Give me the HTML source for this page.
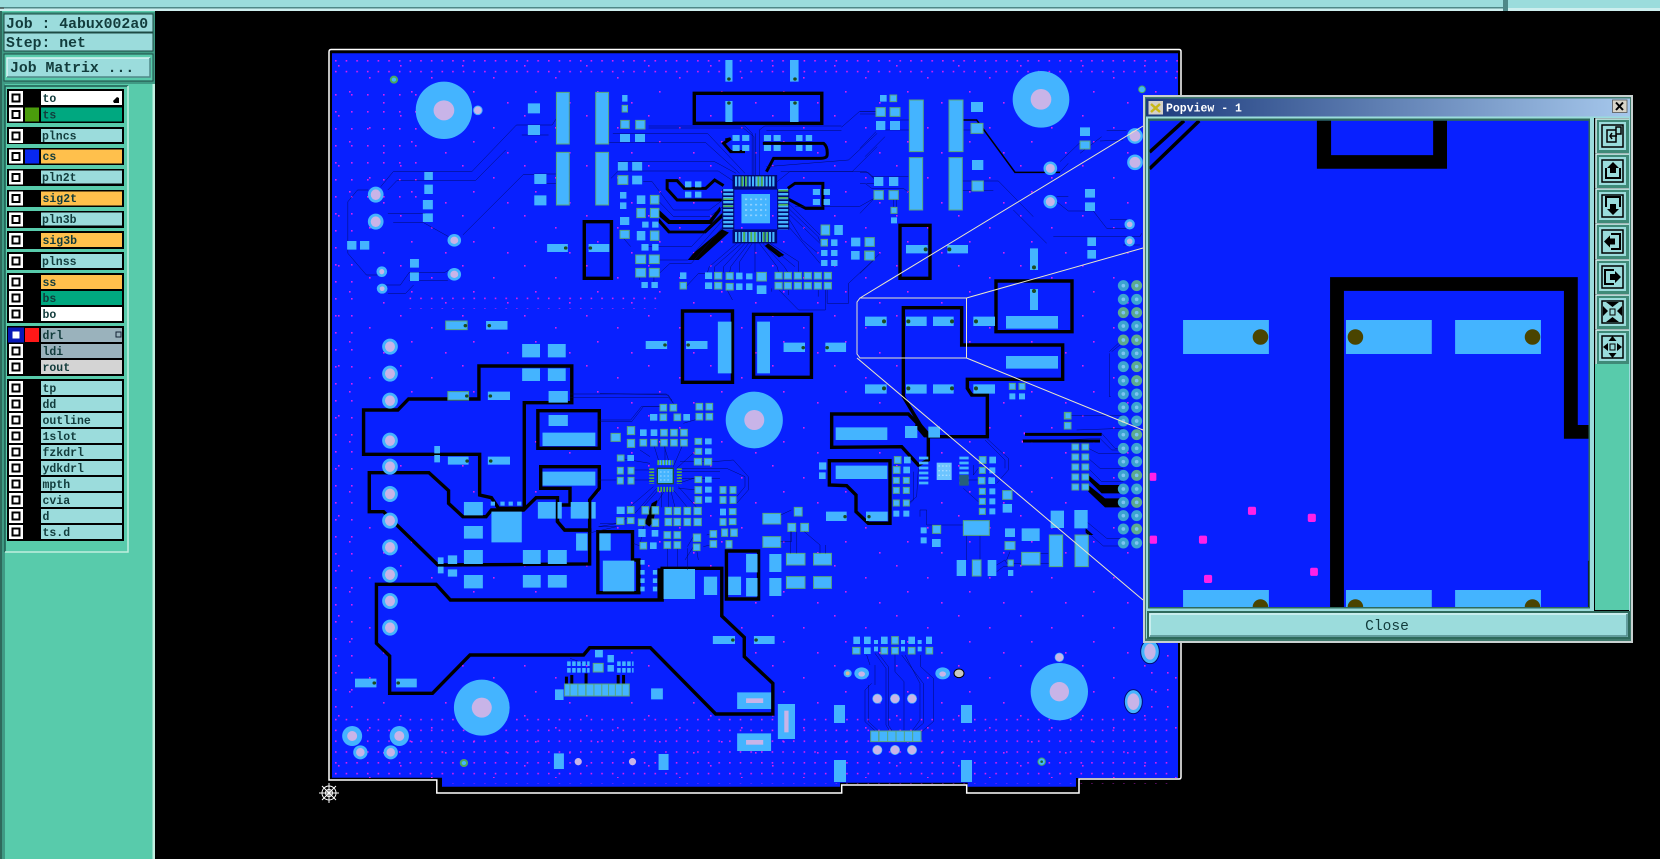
<!DOCTYPE html>
<html><head><meta charset="utf-8"><title>Genesis PCB view</title>
<style>
html,body{margin:0;padding:0;background:#000;width:1660px;height:859px;overflow:hidden}
svg{display:block}
text{font-family:"Liberation Mono",monospace;font-weight:bold;fill:#123c3c}
.l{font-size:11.5px}
.h{font-size:14.8px}
.p{fill:#44b4ff}
.g{fill:#44b4ff;stroke:#58a67c;stroke-width:1;vector-effect:non-scaling-stroke}
.t{fill:none;stroke:#000850;stroke-width:1.25;vector-effect:non-scaling-stroke}
.k{fill:none;stroke:#000;stroke-width:3;vector-effect:non-scaling-stroke}
.pl{fill:#0820ff;stroke:#000;stroke-width:3.4;vector-effect:non-scaling-stroke;stroke-linejoin:miter}
.bx{fill:none;stroke:#000;stroke-width:3.4;vector-effect:non-scaling-stroke}
.b{fill:#000}
.v{fill:#c8b4e8}
.d{fill:#1c4a20}
.lp{fill:none;stroke:#ece8c8;stroke-width:1}
</style></head>
<body>
<svg width="1660" height="859" viewBox="0 0 1660 859" xmlns="http://www.w3.org/2000/svg">
<defs>
<pattern id="dn" patternUnits="userSpaceOnUse" x="335" y="60" width="10.65" height="10.8"><rect width="1.6" height="1.6" fill="#d820f0"/></pattern>
<pattern id="dm" patternUnits="userSpaceOnUse" x="335" y="60" width="16" height="17"><rect width="1.6" height="1.6" fill="#d820f0"/></pattern>
<pattern id="sp" patternUnits="userSpaceOnUse" x="335" y="60" width="62" height="50"><rect x="3" y="5" width="1.6" height="1.6" fill="#d820f0"/><rect x="34" y="17" width="1.6" height="1.6" fill="#d820f0"/><rect x="14" y="31" width="1.6" height="1.6" fill="#d820f0"/><rect x="48" y="42" width="1.6" height="1.6" fill="#d820f0"/></pattern>
<linearGradient id="tg" x1="0" x2="1" y1="0" y2="0"><stop offset="0" stop-color="#1c3a7c"/><stop offset="1" stop-color="#a6c8ec"/></linearGradient>
</defs>
<rect width="1660" height="859" fill="#000"/>

<!-- top bar -->
<rect x="0" y="0" width="1503" height="7.5" fill="#9bdcdc"/>
<rect x="4" y="7" width="1499" height="1.5" fill="#4f8888"/>
<rect x="0" y="8.5" width="1503" height="2.5" fill="#cdeeee"/>
<rect x="1503" y="0" width="5" height="11" fill="#4f8888"/>
<rect x="1508" y="0" width="152" height="8" fill="#9bdcdc"/>
<rect x="1508" y="8" width="152" height="3" fill="#cdeeee"/>

<!-- board -->
<path d="M331 49.5H1179q2 0 2 2V777q0 2-2 2H1079V793H966.7V785H841.7V793H436.8V780H329V52q0-2.5 2-2.5z" fill="#000" stroke="#fff" stroke-width="1.5"/>
<path d="M332 53.3H1178V778H1076V786.7H967.7V782.7H840V786.7H442V777.7H332z" fill="#0820ff"/>
<rect x="332" y="54" width="846" height="724" fill="url(#sp)"/>
<rect x="334" y="58" width="844" height="22" fill="url(#dn)"/>
<rect x="443" y="716" width="733" height="68" fill="url(#dn)"/>
<rect x="334" y="716" width="110" height="60" fill="url(#dn)"/>
<rect x="334" y="80" width="26" height="636" fill="url(#dm)"/>
<rect x="405" y="293" width="260" height="16" fill="url(#dn)"/>
<rect x="360" y="90" width="60" height="110" fill="url(#dm)"/>
<rect x="1150" y="640" width="27" height="76" fill="url(#dm)"/>

<!-- planes -->
<g transform="translate(320,400) scale(.35714,.33333)">
<path class="pl" d="M122 163V30H218L248-3H445V-102H705V8H572V325H500L480 293 447 285V163z"/>
<path class="pl" d="M138 335V218H305L360 272V310L400 350H465L480 330H570L605 293H665V365L685 390H755V492L330 495 215 375 178 335z"/>
<path class="pl" d="M158 730V553H325L365 600H958V505H1125V648L1188 712V770L1268 850V942H1108L925 743H755L738 765H420L315 880H195V768z"/>
<path class="pl" d="M610 145V32H782V145z"/>
<path class="pl" d="M618 265V200H782V265L755 300V390H685L665 365V315H700V265z"/>
<path class="pl" d="M778 578V395H875V480H893V578z"/>
<path class="pl" d="M1138 597V453H1228V597z"/>
<rect class="b" x="885" y="480" width="12" height="98"/>
<rect class="b" x="945" y="505" width="16" height="95"/>
</g>
<g transform="translate(860,40) scale(.33333)">
<path class="pl" d="M130 1070V803H305V915H608V1018H322V1045L335 1065H382V1190H202z"/>
<rect class="bx" x="408" y="723" width="228" height="152" style="fill:#0820ff"/>
<rect class="bx" x="120" y="556" width="90" height="159"/>
</g>
<g transform="translate(800,400) scale(.33333)">
<path class="pl" d="M95 142V42H325L385 105V180L355 195 305 140z"/>
<path class="pl" d="M88 255V182H270V370H205L168 335V285L140 257z"/>
<path class="b" d="M350 55L385 95V112H372L345 80z"/>
</g>
<g transform="translate(320,40) scale(.35714,.33333)">
<rect class="bx" x="1048" y="160" width="357" height="90"/>
<rect class="bx" x="740" y="545" width="76" height="170"/>
<rect class="bx" x="1015" y="813" width="140" height="214"/>
<rect class="bx" x="1214" y="823" width="162" height="189"/>
</g>

<!-- top-left zoom group -->
<g transform="translate(320,40) scale(.35714,.33333)">
<path class="b" d="M945 505L980 540H1090L1120 500 1122 512 1095 552H975L945 525z"/>
<path class="b" d="M950 535L980 572H1075L1125 520 1130 530 1080 580H975L948 548z"/>
<path class="b" d="M1030 660H1060L1145 578 1125 568 1045 640z"/>
<path class="b" d="M1255 610L1300 645 1285 652 1245 618z"/>
<path class="k" d="M1130 437L1105 420 1080 445H1020L1000 422H972V447L1000 480H1125"/>
<path class="k" d="M1240 310H1410Q1422 320 1420 345 1420 355 1400 355H1270L1250 395M1135 300L1150 296 1130 310 1150 335H1190"/>
<path class="k" d="M1310 445L1330 430H1408V505H1360L1312 478M1408 430V505"/>
<g class="t">
<path d="M135 450H105L78 485V640L130 705H160M170 440L205 395H425L550 255H650L662 235M190 450L215 422H435L520 330M190 520H295M205 548H290L360 590M400 585L570 403H600M175 735H225L250 697H350L360 690M190 760H240L262 735M250 722H358M565 285H640M600 430H662M600 402H662"/>
<path d="M820 280H1085L1190 400M810 308H1080L1175 400M835 365H1105L1165 400M815 415L835 393H1115L1160 425M920 258H1190L1210 280V405M920 264H1185L1215 290V405M1220 280V405M1230 405V270L1245 258H1460M1250 272H1460M1290 395H1490L1560 320M1280 425L1315 395H1530L1560 425M1250 380L1480 360 1560 280M1460 262L1510 215H1565M1530 430L1565 430M1330 500L1510 500 1560 470"/>
<path d="M1170 607L1090 680 1085 697M1180 610L1105 680V697M1190 610L1130 680V698M1200 610L1150 680 1147 698M1210 610L1175 665V698M1218 610V697M1230 610L1280 680 1284 697M1240 610L1300 680 1310 697M1250 610L1330 680M1260 610L1340 665V697M1128 480L1090 510H990L930 425H905M1128 500L1090 530H990L945 480M1128 520L1040 620H900M1128 540L1030 660H950M1128 560L1040 670H980L950 700M1312 490L1400 585M1312 505L1395 590 1400 605M1312 520L1400 610M1312 535L1350 600 1395 640M1312 560L1345 600 1400 670M1480 730L1530 680 1568 640M1285 750L1340 810H1415V750M1420 750V790H1480V730M1025 740L1060 700H1078M1140 750L1155 780M1312 750V765M1395 750V770M1265 745V755M870 620L850 595V570M895 700V720M935 700V725"/>
<path d="M700 1062H970L985 1080M700 1072H975L990 1090"/>
</g>
<!-- chip 1 -->
<rect fill="#000a70" x="1155" y="405" width="125" height="44"/>
<rect fill="#000a70" x="1155" y="568" width="125" height="42"/>
<path d="M1162 424H1275M1162 591H1275" fill="none" stroke="#44b4ff" stroke-width="30" stroke-dasharray="6 3.500"/>
<path d="M1180 424H1200M1225 424H1240M1185 591H1190M1205 591H1225M1240 591H1260" fill="none" stroke="#4fb050" stroke-width="30" stroke-dasharray="5 5"/>
<rect fill="#000a70" x="1126" y="447" width="34" height="122"/>
<rect fill="#000a70" x="1280" y="447" width="34" height="122"/>
<path d="M1143 447V568M1297 447V568" fill="none" stroke="#44b4ff" stroke-width="28" stroke-dasharray="7 5"/>
<path d="M1143 475V515M1297 450V510" fill="none" stroke="#4fb050" stroke-width="27" stroke-dasharray="5 16"/>
<rect class="p" x="1180" y="462" width="80" height="88"/>
<path d="M1190 478H1250M1190 494H1250M1190 510H1250M1190 526H1250" stroke="#8cd0ff" stroke-width="5" stroke-dasharray="6 8" fill="none"/>
<!-- big pad and vias -->
<ellipse class="p" cx="347" cy="211" rx="79" ry="86"/><ellipse class="v" cx="347" cy="211" rx="29" ry="30"/>
<ellipse class="v" cx="442" cy="211" rx="12" ry="13" stroke="#44b4ff" stroke-width="1" vector-effect="non-scaling-stroke"/>
<ellipse class="p" cx="1216" cy="1140" rx="80" ry="85"/><ellipse class="v" cx="1216" cy="1140" rx="28" ry="30"/>
<g fill="#c8b4e8" stroke="#44b4ff" stroke-width="8">
<ellipse cx="156" cy="464" rx="18" ry="20"/><ellipse cx="156" cy="545" rx="18" ry="20"/><ellipse cx="376" cy="601" rx="15" ry="15"/><ellipse cx="173" cy="695" rx="11" ry="12"/><ellipse cx="174" cy="746" rx="11" ry="11"/><ellipse cx="376" cy="703" rx="15" ry="15"/>
<ellipse cx="196" cy="920" rx="18" ry="20"/><ellipse cx="196" cy="1001" rx="18" ry="20"/><ellipse cx="196" cy="1082" rx="18" ry="20"/>
</g>
<circle cx="207" cy="119" r="9" fill="#44b4ff" stroke="#4aa860" stroke-width="2" vector-effect="non-scaling-stroke"/>
<path class="g" d="M662 157h36v155h-36zM772 157h36v155h-36zM662 337h36v158h-36zM772 337h36v158h-36zM842 241h24v24h-24zM884 241h26v26h-26zM846 196h15v20h-15zM834 407h28v26h-28zM887 505h24v28h-24zM925 466h24v26h-24zM925 505h24v28h-24zM925 573h24v28h-24zM840 571h26v24h-26zM884 645h28v26h-28zM922 645h28v26h-28zM884 685h28v26h-28zM922 685h28v26h-28zM1403 555h24v30h-24zM1403 598h18v20h-18zM1525 633h26v26h-26zM1105 697h20v20h-20zM1137 698h20v20h-20zM1137 730h20v20h-20zM1105 727h20v20h-20zM1223 697h27v26h-27zM1274 697h20v20h-20zM1274 727h20v20h-20zM1300 697h20v20h-20zM1300 727h20v20h-20zM1328 697h20v20h-20zM1328 727h20v20h-20zM1356 697h20v20h-20zM1356 727h20v20h-20zM1384 697h20v20h-20zM1384 727h20v20h-20zM1412 697h20v20h-20zM1412 727h20v20h-20zM1008 727h18v20h-18zM352 843h60v26h-60zM358 1055h58v25h-58z"/>
<path class="p" d="M582 190h34v30h-34zM582 255h34v30h-34zM600 402h34v30h-34zM600 466h34v30h-34zM292 396h24v24h-24zM292 434h24v28h-24zM288 480h28v28h-28zM288 520h28v26h-28zM76 603h26v26h-26zM112 603h26v26h-26zM252 657h25v26h-25zM252 697h25v26h-25zM1135 60h20v65h-20zM1316 60h24v65h-24zM1135 183h20v63h-20zM1316 183h24v63h-24zM846 165h15v20h-15zM840 282h28v24h-28zM882 282h28v24h-28zM834 366h28v26h-28zM874 366h28v26h-28zM874 407h28v26h-28zM840 456h18v20h-18zM840 487h18v20h-18zM887 466h24v26h-24zM902 545h18v18h-18zM930 545h18v18h-18zM840 531h26v24h-26zM887 573h24v28h-24zM900 612h20v20h-20zM930 612h18v20h-18zM900 726h18v18h-18zM928 726h18v18h-18zM752 612h58v24h-58zM636 612h58v24h-58zM1008 697h18v20h-18zM1078 697h20v20h-20zM1078 727h20v20h-20zM1165 698h18v20h-18zM1165 730h18v20h-18zM1193 700h18v18h-18zM1193 730h18v20h-18zM1223 736h27v26h-27zM1440 555h24v30h-24zM1431 598h18v20h-18zM1403 630h18v18h-18zM1431 630h18v18h-18zM1403 660h18v18h-18zM1431 660h18v18h-18zM1487 593h26v26h-26zM1525 593h26v26h-26zM1487 633h24v26h-24zM1155 285h20v18h-20zM1182 285h20v18h-20zM1155 315h20v18h-20zM1182 315h20v18h-20zM1243 285h20v18h-20zM1270 285h20v18h-20zM1243 315h20v18h-20zM1270 315h20v18h-20zM1333 285h18v18h-18zM1360 285h18v18h-18zM1333 315h18v18h-18zM1360 315h18v18h-18zM1022 424h18v18h-18zM1050 424h18v18h-18zM1022 455h18v18h-18zM1050 455h18v18h-18zM1380 447h20v18h-20zM1410 447h18v18h-18zM1380 477h20v18h-20zM1410 477h18v18h-18zM566 912h50v40h-50zM638 912h50v40h-50zM566 985h50v38h-50zM638 985h50v38h-50zM640 1053h54v35h-54zM465 843h60v26h-60zM470 1055h62v25h-62zM912 903h60v24h-60zM1025 903h60v24h-60zM1114 845h38v155h-38zM1224 845h36v155h-36zM1298 908h60v28h-60zM1415 908h58v28h-58z"/>
<g class="d"><circle cx="1145" cy="117" r="5"/><circle cx="1330" cy="117" r="5"/><circle cx="1145" cy="189" r="5"/><circle cx="1330" cy="189" r="5"/><circle cx="688" cy="624" r="5"/><circle cx="757" cy="624" r="5"/><circle cx="407" cy="857" r="5"/><circle cx="474" cy="857" r="5"/><circle cx="411" cy="1068" r="5"/><circle cx="477" cy="1068" r="5"/><circle cx="966" cy="915" r="5"/><circle cx="1031" cy="915" r="5"/><circle cx="1353" cy="923" r="5"/><circle cx="1420" cy="923" r="5"/></g>
</g>

<!-- lower-left zoom group -->
<g transform="translate(320,400) scale(.35714,.33333)">
<path class="k" d="M690 830V852M705 825V852M745 820V852M835 825V852M850 825V852"/>
<g class="t"><path d="M780 60H870L900 20H960M780 240H830M700 775L740 790M780 380H830L750 400M835 370L780 380"/></g>
<ellipse class="p" cx="453" cy="923" rx="78" ry="84"/><ellipse class="v" cx="453" cy="923" rx="28" ry="30"/>
<g fill="#c8b4e8" stroke="#44b4ff" stroke-width="8">
<ellipse cx="196" cy="122" rx="18" ry="20"/><ellipse cx="196" cy="200" rx="18" ry="20"/><ellipse cx="196" cy="282" rx="18" ry="20"/><ellipse cx="196" cy="362" rx="18" ry="20"/><ellipse cx="196" cy="442" rx="18" ry="20"/><ellipse cx="196" cy="524" rx="18" ry="20"/><ellipse cx="196" cy="603" rx="18" ry="20"/><ellipse cx="196" cy="683" rx="18" ry="20"/>
<ellipse cx="113" cy="1057" rx="16" ry="17"/><ellipse cx="198" cy="1057" rx="16" ry="17"/>
</g>
<ellipse class="p" cx="90" cy="1008" rx="28" ry="30"/><ellipse class="v" cx="90" cy="1008" rx="14" ry="15"/>
<ellipse class="p" cx="222" cy="1008" rx="27" ry="30"/><ellipse class="v" cx="222" cy="1008" rx="14" ry="15"/>
<ellipse class="v" cx="723" cy="1085" rx="10" ry="11"/><ellipse class="v" cx="875" cy="1085" rx="10" ry="11"/>
<circle cx="403" cy="1089" r="9" fill="#44b4ff" stroke="#4aa860" stroke-width="2" vector-effect="non-scaling-stroke"/>
<path class="p" d="M403 306h53v40h-53zM480 335h85v92h-85zM403 378h53v38h-53zM403 450h53v42h-53zM568 450h50v42h-50zM638 450h53v42h-53zM403 525h53v40h-53zM568 525h50v38h-50zM638 525h53v38h-53zM610 306h50v50h-50zM702 306h50v50h-50zM665 306h12v50h-12zM760 306h12v50h-12zM717 400h32v52h-32zM478 305h12v12h-12zM505 305h12v12h-12zM528 305h12v12h-12zM552 305h12v12h-12zM330 472h16v20h-16zM330 500h16v20h-16zM358 466h26v26h-26zM358 508h26v22h-26zM320 138h16v22h-16zM320 165h16v22h-16zM358 170h58v24h-58zM470 170h62v24h-62zM640 45h54v33h-54zM623 98h148v40h-148zM623 215h148v42h-148zM782 400h32v52h-32zM792 482h88v92h-88zM962 507h88v90h-88zM1075 530h37v55h-37zM1143 530h36v55h-36zM1193 462h32v55h-32zM1193 534h32v55h-32zM897 480h12v14h-12zM897 510h12v14h-12zM897 535h12v14h-12zM897 560h12v14h-12zM932 510h12v14h-12zM932 535h12v14h-12zM932 560h12v14h-12zM658 868h24v32h-24zM927 865h33v33h-33zM1168 877h95v50h-95zM1168 1000h95v53h-95zM1282 912h48v105h-48zM655 1060h28v47h-28zM948 1062h28v48h-28zM98 836h60v26h-60zM213 836h58v26h-58zM1100 708h62v24h-62zM1215 708h58v24h-58zM770 750h22v22h-22zM805 765h18v22h-18zM805 795h18v20h-18z"/>
<path class="g" d="M1240 340h50v32h-50zM1240 410h50v32h-50zM1328 322h22v26h-22zM1310 370h22v24h-22zM1346 370h22v24h-22zM1306 460h52v35h-52zM1382 460h50v35h-50zM1306 530h52v35h-52zM1382 530h50v35h-50zM765 790h28v26h-28zM685 852h15v36h-15zM700 852h22v36h-22zM722 852h22v36h-22zM745 852h22v36h-22zM767 852h22v36h-22zM789 852h19v36h-19zM808 852h19v36h-19zM827 852h19v36h-19zM846 852h20v36h-20z"/>
<path class="p" d="M1258 462h34v54h-34zM1258 534h34v54h-34z"/>
<path d="M692 791H755M692 811H755M832 791H878M832 811H878" stroke="#44b4ff" stroke-width="14" stroke-dasharray="10 4" fill="none"/>
<rect class="v" x="1193" y="895" width="48" height="14"/><rect class="v" x="1193" y="1020" width="48" height="14"/><rect class="v" x="1300" y="932" width="12" height="65"/>
<g class="d"><circle cx="412" cy="183" r="5"/><circle cx="478" cy="183" r="5"/><circle cx="152" cy="849" r="5"/><circle cx="219" cy="849" r="5"/><circle cx="1156" cy="720" r="5"/><circle cx="1221" cy="720" r="5"/><circle cx="1470" cy="351" r="5"/><circle cx="1538" cy="351" r="5"/></g>
<g class="t"><path d="M1290 345L1320 330M1290 425H1320V395M1356 395L1400 435V460M1318 395V460M1335 395V460M1415 435V460"/></g>
</g>

<!-- IC2 area -->
<g transform="translate(600,390) scale(.33333)">
<g class="t"><path d="M0 95H95L130 50H180M0 10L205 15 220 40M250 100L300 85M240 215H340L400 210 445 260V300L410 340M240 235H380L435 260V290L410 320M240 245H360M245 265H360M150 200L120 180M150 220L60 205M150 240H102M150 270H102M160 290L90 350M170 295L105 370M175 300L130 350M185 300V352M195 300L135 395M205 300V352M212 300L225 352M220 300L262 352M235 290L290 352M235 280L290 262M235 295L295 300M195 225V160M210 225L190 160M180 225L160 160M220 230L250 160M230 235L290 180M0 400H50L80 385M155 350L130 410 120 465M232 475V530M202 475V530M262 475V540M125 470L100 460M280 470L255 510M280 440L262 470M290 480L295 510M350 460L310 470M342 430L320 435"/></g>
<path class="b" d="M135 400L155 340 172 330 160 395 148 410z"/>
<path d="M172 218H220M172 298H220M155 235V282M238 235V282" fill="none" stroke="#55b043" stroke-width="15" stroke-dasharray="5 4"/>
<path d="M178 218H215" fill="none" stroke="#44b4ff" stroke-width="15" stroke-dasharray="5 4"/>
<rect x="172" y="235" width="48" height="46" fill="#44b4ff" stroke="#1f5030" stroke-width="4"/>
<path d="M180 246H214M180 258H214M180 270H214" stroke="#8cd0ff" stroke-width="4" stroke-dasharray="5 6" fill="none"/>
<path class="g" d="M180 43h20v20h-20zM210 43h20v20h-20zM180 72h20v20h-20zM222 72h20v20h-20zM288 40h20v20h-20zM318 40h20v20h-20zM288 70h20v20h-20zM318 70h20v20h-20zM182 118h20v20h-20zM212 118h20v20h-20zM242 118h20v20h-20zM33 130h28v24h-28zM82 110h22v24h-22zM82 148h22v24h-22zM120 148h20v20h-20zM152 148h20v20h-20zM182 148h20v20h-20zM212 148h20v20h-20zM242 148h20v20h-20zM285 145h20v18h-20zM285 175h20v18h-20zM283 205h22v20h-22zM313 205h22v20h-22zM52 195h20v18h-20zM52 232h18v20h-18zM84 232h18v20h-18zM52 262h18v20h-18zM84 262h18v20h-18zM285 260h20v18h-20zM285 290h20v20h-20zM285 320h20v20h-20zM360 290h18v20h-18zM390 290h18v20h-18zM360 320h18v20h-18zM390 320h18v20h-18zM388 356h20v18h-20zM360 386h18v20h-18zM388 386h20v18h-20zM82 350h20v20h-20zM50 383h22v20h-22zM82 383h20v18h-20zM126 350h20v22h-20zM156 350h20v22h-20zM115 387h20v20h-20zM156 387h20v22h-20zM195 352h20v22h-20zM222 352h20v22h-20zM252 352h20v22h-20zM282 352h22v22h-22zM195 385h20v22h-20zM222 385h20v22h-20zM252 385h20v22h-20zM282 385h22v22h-22zM192 425h20v20h-20zM222 425h20v20h-20zM192 455h20v20h-20zM222 455h20v20h-20zM120 457h20v20h-20zM280 432h22v22h-22zM280 462h20v20h-20zM330 422h20v20h-20zM330 452h20v20h-20zM365 417h18v22h-18zM392 417h20v22h-20zM378 452h18v22h-18z"/>
<path class="p" d="M150 72h22v20h-22zM250 72h20v20h-20zM120 118h20v20h-20zM152 118h20v20h-20zM315 145h20v18h-20zM315 175h20v18h-20zM82 195h20v18h-20zM315 260h20v18h-20zM315 290h20v18h-20zM315 320h20v18h-20zM360 356h18v20h-18zM50 350h24v22h-24zM115 417h22v24h-22zM155 420h20v20h-20zM150 457h20v20h-20z"/>
</g>

<!-- right lower zoom group -->
<g transform="translate(800,400) scale(.33333)">
<path class="b" d="M865 225L900 255H970V280H905L865 240zM865 255L915 295H970V322H915L865 275zM857 385L880 405H865L857 398z"/>
<g class="t">
<path d="M865 145L895 160H970M865 175L900 205H970M865 205L905 245H970M860 365L920 415H970M855 390L910 438H970M675 100H905L945 145H970M670 125L900 115 935 150H970M820 47H970M830 90L970 85M810 47L820 47M360 350V330H380V375H490M500 405V480M540 405V480M590 495L615 480 620 490H665M590 515L610 500H624M720 490H748M720 460L745 460M630 455L620 480M560 115L625 175V210L590 250M555 120L615 180V205M520 195V225L535 205M480 240H535M490 265L535 305M340 215L340 300 320 320M355 205L350 290 325 310"/>
<path d="M225 760L258 805V975L270 995M285 760V815L312 845V990M305 765L370 850V970L340 995M315 765L360 850V960L335 995M362 765V800L400 835V965L365 995M215 850L195 870V965L228 995M205 855L205 965 238 995M200 765L210 795M235 760L265 800V975L278 995M225 795V855"/>
</g>
<path class="k" d="M675 103H905M668 123H900"/>
<path d="M671 100h4M665 125h4" stroke="#e824f0" stroke-width="6" fill="none"/>
<path class="p" d="M107 82h155v38h-155zM315 78h37v36h-37zM385 80h35v33h-35zM107 197h155v40h-155zM57 187h22v22h-22zM57 217h20v20h-20zM312 170h20v20h-20zM310 200h20v20h-20zM280 332h18v18h-18zM310 332h18v18h-18zM568 170h20v20h-20zM568 202h18v18h-18zM565 232h20v20h-20zM568 265h18v18h-18zM568 295h18v18h-18zM568 325h18v18h-18zM608 312h28v26h-28zM362 382h18v18h-18zM362 412h18v18h-18zM396 417h26v24h-26zM470 480h28v48h-28zM563 480h26v48h-26zM615 385h30v26h-30zM665 385h54v38h-54zM624 510h16v18h-16zM752 332h40v52h-40zM823 330h40v55h-40zM78 335h62v28h-62zM198 335h65v28h-65z"/>
<path class="g" d="M283 170h20v20h-20zM280 200h20v20h-20zM310 232h18v18h-18zM280 232h18v18h-18zM280 262h18v18h-18zM310 262h18v18h-18zM280 300h18v18h-18zM310 300h18v18h-18zM538 170h20v20h-20zM538 202h18v18h-18zM535 232h20v20h-20zM538 265h18v18h-18zM538 295h18v18h-18zM538 325h18v18h-18zM608 272h28v26h-28zM398 376h24v24h-24zM490 362h78v44h-78zM517 480h26v48h-26zM615 425h30v24h-30zM665 457h55v38h-55zM624 480h16v18h-16zM748 405h40v95h-40zM825 405h40v95h-40zM793 37h20v20h-20zM793 67h20v20h-20zM816 132h20v18h-20zM846 132h20v18h-20zM816 162h20v18h-20zM846 162h20v18h-20zM816 192h20v18h-20zM846 192h20v18h-20zM816 222h20v18h-20zM846 222h20v18h-20zM816 252h20v18h-20zM846 252h20v18h-20z"/>
<path d="M371 170V258M492 170V258" fill="none" stroke="#44b4ff" stroke-width="28" stroke-dasharray="8 7"/>
<rect x="478" y="225" width="28" height="32" fill="#26607a"/>
<rect x="410" y="188" width="45" height="52" fill="#6cc4ff"/>
<path d="M415 198H450M415 212H450M415 226H450" stroke="#a8dcff" stroke-width="4" stroke-dasharray="5 6" fill="none"/>
<path class="p" d="M160 710h20v22h-20zM192 710h20v22h-20zM222 720h12v12h-12zM243 710h20v22h-20zM303 720h12v12h-12zM325 710h20v22h-20zM353 720h12v12h-12zM378 710h18v22h-18zM192 742h20v20h-20zM222 740h12v14h-12zM303 740h12v14h-12zM353 740h12v14h-12zM102 915h33v54h-33zM483 915h33v54h-33zM102 1080h36v66h-36zM483 1080h33v66h-33z"/>
<path class="g" d="M275 710h20v22h-20zM158 742h22v20h-22zM243 742h20v20h-20zM275 742h20v20h-20zM325 742h20v20h-20zM378 742h20v20h-20zM212 993h24v32h-24zM237 993h26v32h-26zM263 993h25v32h-25zM288 993h25v32h-25zM313 993h25v32h-25zM338 993h25v32h-25z"/>
<ellipse class="p" cx="185" cy="820" rx="22" ry="18"/><ellipse class="v" cx="185" cy="822" rx="10" ry="8"/>
<ellipse class="p" cx="428" cy="820" rx="22" ry="18"/><ellipse class="v" cx="428" cy="822" rx="10" ry="8"/>
<circle cx="143" cy="820" r="9" fill="#d8b898" stroke="#44b4ff" stroke-width="2" vector-effect="non-scaling-stroke"/>
<ellipse cx="477" cy="820" rx="15" ry="13" fill="#c8c8c0" stroke="#000" stroke-width="1" vector-effect="non-scaling-stroke"/>
<g class="v" stroke="#44b4ff" stroke-width="2">
<circle cx="232" cy="896" r="14"/><circle cx="285" cy="896" r="14"/><circle cx="336" cy="896" r="14"/><circle cx="232" cy="1050" r="14"/><circle cx="285" cy="1050" r="14"/><circle cx="336" cy="1050" r="14"/>
<circle cx="778" cy="772" r="13"/>
</g>
<circle class="p" cx="778" cy="875" r="86"/><circle class="v" cx="778" cy="875" r="29"/>
<ellipse cx="1050" cy="755" rx="28" ry="36" fill="#44b4ff" stroke="#000c70" stroke-width="1" vector-effect="non-scaling-stroke"/><ellipse class="v" cx="1050" cy="755" rx="17" ry="24"/>
<ellipse cx="1000" cy="905" rx="27" ry="36" fill="#44b4ff" stroke="#000c70" stroke-width="1" vector-effect="non-scaling-stroke"/><ellipse class="v" cx="1000" cy="905" rx="18" ry="25"/>
<circle cx="725" cy="1085" r="11" fill="#44b4ff" stroke="#4aa860" stroke-width="1" vector-effect="non-scaling-stroke"/><circle cx="725" cy="1085" r="4" fill="#1c6a30"/>
<g class="d"><circle cx="135" cy="350" r="5"/><circle cx="207" cy="350" r="5"/></g>
</g>

<!-- top-right zoom group -->
<g transform="translate(860,40) scale(.33333)">
<g class="t">
<path d="M0 215H48M0 222H48M600 365L665 303M740 272H800M725 290L660 340M310 270H333M305 423H415L520 530M305 452H400M590 470H625M590 485L625 513H700L740 565H800M750 538H800M580 590H840L845 580M460 510L560 610M790 615H840M0 325L48 275M15 350L75 290M35 410H145M0 398H25L45 415M0 430H15L35 445H130L150 460M40 478L0 520M0 700L42 660M748 940V1070H752M775 910L748 935M755 935L780 915M76 270H148M100 478V502M110 478V502M120 240H148M600 397L625 370M720 303L790 300"/>
</g>
<path class="k" style="stroke-width:1.5" d="M310 240H350L465 397H600"/>
<circle class="p" cx="543" cy="178" r="85"/><circle class="v" cx="543" cy="178" r="31"/>
<path class="p" d="M60 165h20v20h-20zM333 186h36v30h-36zM336 360h34v30h-34zM660 262h30v26h-30zM675 447h30v26h-30zM675 487h30v26h-30zM682 592h26v26h-26zM682 630h26v26h-26zM510 625h24v65h-24zM510 747h24v63h-24zM438 828h156v38h-156zM340 830h65v28h-65zM15 830h65v28h-65zM138 830h62v28h-62zM219 830h62v28h-62zM15 1033h65v28h-65zM138 1033h62v28h-62zM219 1033h62v28h-62zM340 1033h65v28h-65zM438 948h156v38h-156zM448 1060h18v18h-18zM477 1060h18v18h-18zM138 615h65v25h-65zM262 615h62v25h-62zM93 532h18v18h-18zM42 411h28v27h-28zM87 411h28v27h-28zM48 243h28v27h-28zM90 243h30v27h-30z"/>
<path class="g" d="M148 180h42v155h-42zM267 180h42v155h-42zM148 353h40v157h-40zM267 353h40v157h-40zM90 165h20v20h-20zM48 203h28v26h-28zM90 203h30v26h-30zM42 452h28v26h-28zM87 452h28v26h-28zM93 502h18v18h-18zM15 593h28v26h-28zM15 634h28v26h-28zM333 250h36v30h-36zM336 423h34v30h-34zM660 303h30v24h-30zM448 1030h18v18h-18zM477 1030h18v18h-18zM615 1118h18v18h-18z"/>
<g class="d"><circle cx="522" cy="682" r="6"/><circle cx="522" cy="753" r="6"/><circle cx="197" cy="628" r="6"/><circle cx="268" cy="628" r="6"/><circle cx="348" cy="844" r="6"/><circle cx="72" cy="844" r="6"/><circle cx="145" cy="844" r="6"/><circle cx="276" cy="844" r="6"/><circle cx="72" cy="1045" r="6"/><circle cx="145" cy="1045" r="6"/><circle cx="276" cy="1045" r="6"/><circle cx="348" cy="1045" r="6"/></g>
<g fill="#c8b4e8" stroke="#44b4ff" stroke-width="7">
<circle cx="571" cy="385" r="17"/><circle cx="571" cy="485" r="17"/><circle cx="825" cy="288" r="20"/><circle cx="825" cy="367" r="20"/><circle cx="809" cy="553" r="12"/><circle cx="809" cy="604" r="12"/>
</g>
<circle cx="846" cy="148" r="10" fill="#44b4ff" stroke="#4aa860" stroke-width="1" vector-effect="non-scaling-stroke"/>
<!-- via columns -->
<g fill="#7cc4f4" stroke="#3ca4d0" stroke-width="11">
<circle cx="790" cy="737" r="11"/><circle cx="830" cy="737" r="11" stroke="#5caa90"/><circle cx="790" cy="778" r="11"/><circle cx="830" cy="778" r="11"/><circle cx="790" cy="818" r="11" stroke="#5caa90"/><circle cx="830" cy="818" r="11" stroke="#5caa90"/><circle cx="790" cy="858" r="11"/><circle cx="830" cy="858" r="11"/><circle cx="790" cy="900" r="11" stroke="#5caa90"/><circle cx="830" cy="900" r="11" stroke="#5caa90"/><circle cx="790" cy="940" r="11"/><circle cx="830" cy="940" r="11"/><circle cx="790" cy="980" r="11"/><circle cx="830" cy="980" r="11" stroke="#5caa90"/><circle cx="790" cy="1022" r="11"/><circle cx="830" cy="1022" r="11" stroke="#5caa90"/><circle cx="790" cy="1062" r="11"/><circle cx="830" cy="1062" r="11"/><circle cx="790" cy="1102" r="11"/><circle cx="830" cy="1102" r="11"/><circle cx="790" cy="1143" r="11"/><circle cx="830" cy="1143" r="11"/><circle cx="790" cy="1184" r="11"/><circle cx="830" cy="1184" r="11" stroke="#5caa90"/><circle cx="790" cy="1225" r="11"/><circle cx="830" cy="1225" r="11"/><circle cx="790" cy="1265" r="11"/><circle cx="830" cy="1265" r="11"/><circle cx="790" cy="1306" r="11"/><circle cx="830" cy="1306" r="11" stroke="#5caa90"/><circle cx="790" cy="1347" r="11"/><circle cx="830" cy="1347" r="11"/><circle cx="790" cy="1387" r="11"/><circle cx="830" cy="1387" r="11" stroke="#5caa90"/><circle cx="790" cy="1427" r="11"/><circle cx="830" cy="1427" r="11"/><circle cx="790" cy="1467" r="11"/><circle cx="830" cy="1467" r="11" stroke="#5caa90"/><circle cx="790" cy="1509" r="11"/><circle cx="830" cy="1509" r="11"/>
</g>
</g>

<!-- compass -->
<g stroke="#fff" stroke-width="1" fill="none"><circle cx="329" cy="793" r="7"/><circle cx="329" cy="793" r="3.5"/><path d="M319 793H339M329 783V803M322 786L336 800M336 786L322 800"/></g>

<!-- loupe -->
<path class="lp" d="M860 298H966.5V358H860L857 354V302zM966.5 298L1143 248M860 298L1143 126M966.5 358L1143 430M857 358L1143 600"/>

<!-- sidebar -->
<rect x="0" y="11" width="155" height="848" fill="#58cbab"/>
<rect x="0" y="11" width="2" height="848" fill="#2e6a5c"/>
<rect x="2" y="84" width="3" height="775" fill="#3f9a84"/>
<rect x="152.5" y="84" width="2.5" height="775" fill="#c0efe0"/>
<rect x="2" y="12" width="153" height="72" fill="#3f9a84"/>
<rect x="4" y="14" width="149" height="18" fill="#9bdcdc" stroke="#1d4a44"/>
<rect x="4" y="33" width="149" height="18" fill="#9bdcdc" stroke="#1d4a44"/>
<text class="h" x="6" y="28">Job : 4abux002a0</text>
<text class="h" x="6" y="47">Step: net</text>
<rect x="4" y="54" width="149" height="27" fill="#58cbab" stroke="#1d4a44"/>
<rect x="7" y="58" width="143" height="19" fill="#9bdcdc"/>
<path d="M7 77V58H150" fill="none" stroke="#d8f4f4" stroke-width="1.5"/>
<path d="M7 77H150V58" fill="none" stroke="#4f8888" stroke-width="1.5"/>
<text class="h" x="10" y="72">Job Matrix ...</text>
<rect x="5" y="86" width="123" height="466" fill="#58cbab"/>
<path d="M5 552V86H128" fill="none" stroke="#1d5a50" stroke-width="1.5"/>
<path d="M5 552H128V86" fill="none" stroke="#c0efe0" stroke-width="1.5"/>
<g fill="#000">
<rect x="7" y="89" width="117" height="34"/><rect x="7" y="127" width="117" height="17"/><rect x="7" y="148" width="117" height="17"/><rect x="7" y="169" width="117" height="17"/><rect x="7" y="190" width="117" height="17"/><rect x="7" y="211" width="117" height="17"/><rect x="7" y="231" width="117" height="18"/><rect x="7" y="252" width="117" height="18"/><rect x="7" y="273" width="117" height="50"/><rect x="7" y="326" width="117" height="50"/><rect x="7" y="379" width="117" height="162"/>
</g>
<g fill="#9bdcdc">
<rect x="41" y="91" width="81" height="14" fill="#fff"/><rect x="41" y="107.5" width="81" height="14" fill="#00a880"/>
<rect x="41" y="129" width="81" height="13"/><rect x="41" y="149.5" width="81" height="14" fill="#ffc04c"/><rect x="41" y="170.5" width="81" height="13"/><rect x="41" y="191.5" width="81" height="14" fill="#ffc04c"/><rect x="41" y="212.5" width="81" height="13"/><rect x="41" y="233" width="81" height="14" fill="#ffc04c"/><rect x="41" y="254" width="81" height="14"/>
<rect x="41" y="275" width="81" height="14" fill="#ffc04c"/><rect x="41" y="291" width="81" height="14" fill="#00a880"/><rect x="41" y="307" width="81" height="14" fill="#fff"/>
<rect x="41" y="328" width="81" height="14" fill="#9ab2bc"/><rect x="41" y="344" width="81" height="14" fill="#9ab2bc"/><rect x="41" y="360" width="81" height="14" fill="#d4d4d4"/>
<rect x="41" y="381" width="81" height="14"/><rect x="41" y="397" width="81" height="14"/><rect x="41" y="413" width="81" height="14"/><rect x="41" y="429" width="81" height="14"/><rect x="41" y="445" width="81" height="14"/><rect x="41" y="461" width="81" height="14"/><rect x="41" y="477" width="81" height="14"/><rect x="41" y="493" width="81" height="14"/><rect x="41" y="509" width="81" height="14"/><rect x="41" y="525" width="81" height="14"/>
</g>
<rect x="25" y="107.5" width="14" height="14" fill="#4a9c0c"/>
<rect x="25" y="149.5" width="14" height="14" fill="#0828f0"/>
<rect x="25" y="328" width="14" height="14" fill="#ff1818"/>
<rect x="8" y="327.5" width="16" height="15" fill="#0818b8"/>
<g>
<path fill="#fff" d="M9 91h14v14H9zM9 107.5h14v14H9zM9 129h14v14H9zM9 149.5h14v14H9zM9 170.5h14v14H9zM9 191.5h14v14H9zM9 212.5h14v14H9zM9 233h14v14H9zM9 254h14v14H9zM9 275h14v14H9zM9 291h14v14H9zM9 307h14v14H9zM9 344h14v14H9zM9 360h14v14H9zM9 381h14v14H9zM9 397h14v14H9zM9 413h14v14H9zM9 429h14v14H9zM9 445h14v14H9zM9 461h14v14H9zM9 477h14v14H9zM9 493h14v14H9zM9 509h14v14H9zM9 525h14v14H9z"/>
<path fill="#000" d="M11.5 93.5h9v9h-9zM11.5 110h9v9h-9zM11.5 131.5h9v9h-9zM11.5 152h9v9h-9zM11.5 173h9v9h-9zM11.5 194h9v9h-9zM11.5 215h9v9h-9zM11.5 235.5h9v9h-9zM11.5 256.5h9v9h-9zM11.5 277.5h9v9h-9zM11.5 293.5h9v9h-9zM11.5 309.5h9v9h-9zM11.5 346.5h9v9h-9zM11.5 362.5h9v9h-9zM11.5 383.5h9v9h-9zM11.5 399.5h9v9h-9zM11.5 415.5h9v9h-9zM11.5 431.5h9v9h-9zM11.5 447.5h9v9h-9zM11.5 463.5h9v9h-9zM11.5 479.5h9v9h-9zM11.5 495.5h9v9h-9zM11.5 511.5h9v9h-9zM11.5 527.5h9v9h-9z"/>
<path fill="#fff" d="M13.5 95.5h5v5h-5zM13.5 112h5v5h-5zM13.5 133.5h5v5h-5zM13.5 154h5v5h-5zM13.5 175h5v5h-5zM13.5 196h5v5h-5zM13.5 217h5v5h-5zM13.5 237.5h5v5h-5zM13.5 258.5h5v5h-5zM13.5 279.5h5v5h-5zM13.5 295.5h5v5h-5zM13.5 311.5h5v5h-5zM12.5 331.5h7v7h-7zM13.5 348.5h5v5h-5zM13.5 364.5h5v5h-5zM13.5 385.5h5v5h-5zM13.5 401.5h5v5h-5zM13.5 417.5h5v5h-5zM13.5 433.5h5v5h-5zM13.5 449.5h5v5h-5zM13.5 465.5h5v5h-5zM13.5 481.5h5v5h-5zM13.5 497.5h5v5h-5zM13.5 513.5h5v5h-5zM13.5 529.5h5v5h-5z"/>
</g>
<path d="M113 101l4-4 2 1v5h-5z" fill="#000"/>
<path d="M116 332h5v5h-5z" fill="none" stroke="#123" stroke-width="1"/>
<g>
<text class="l" x="42.5" y="102">to</text><text class="l" x="42.5" y="118.5">ts</text><text class="l" x="42" y="139.5">plncs</text><text class="l" x="42.5" y="160">cs</text><text class="l" x="42" y="181">pln2t</text><text class="l" x="42.5" y="202">sig2t</text><text class="l" x="42" y="223">pln3b</text><text class="l" x="42.5" y="244">sig3b</text><text class="l" x="42" y="265">plnss</text><text class="l" x="42.5" y="286">ss</text><text class="l" x="42.5" y="302">bs</text><text class="l" x="42.5" y="318">bo</text><text class="l" x="42.5" y="339">drl</text><text class="l" x="42.5" y="355">ldi</text><text class="l" x="42.5" y="371">rout</text><text class="l" x="42.5" y="392">tp</text><text class="l" x="42.5" y="408">dd</text><text class="l" x="42.5" y="424">outline</text><text class="l" x="42.5" y="440">1slot</text><text class="l" x="42.5" y="456">fzkdrl</text><text class="l" x="42.5" y="472">ydkdrl</text><text class="l" x="42.5" y="488">mpth</text><text class="l" x="42.5" y="504">cvia</text><text class="l" x="42.5" y="520">d</text><text class="l" x="42.5" y="536">ts.d</text>
</g>

<!-- popup -->
<rect x="1143" y="95" width="490" height="548" fill="#c8d0d0"/>
<rect x="1145" y="97" width="486" height="544" fill="#3f7a6c"/>
<rect x="1146" y="98.5" width="484" height="540" fill="#9bdcdc"/>
<rect x="1146" y="98.5" width="484" height="18" fill="url(#tg)"/>
<rect x="1148.5" y="101" width="14.5" height="13.5" fill="#d4d0c8"/>
<path d="M1151 104l9 8M1160 104l-9 8" stroke="#c8b818" stroke-width="2.5"/>
<text x="1166" y="111.5" style="font-size:11.5px;fill:#fff">Popview - 1</text>
<rect x="1612.5" y="100" width="14.5" height="12.5" fill="#d8d4c8" stroke="#555" stroke-width=".8"/>
<path d="M1616 102.5l7 7.5M1623 102.5l-7 7.5" stroke="#000" stroke-width="2"/>
<rect x="1148" y="118.5" width="443" height="490" fill="#2e6a5c"/>
<rect x="1590" y="118" width="4" height="491" fill="#9bdcdc"/>
<rect x="1594" y="118" width="35" height="493" fill="#000"/>
<rect x="1595" y="364" width="34" height="246" fill="#58cbab"/>
<svg x="1149.6" y="120.7" width="439" height="486.3" viewBox="58 110 1299 1315" preserveAspectRatio="none">
<rect x="58" y="110" width="1299" height="1315" fill="#0820ff"/>
<path fill="#000" d="M553 100H595V203H897V100H938V240H553zM592 533H1325V933H1357V970H1284V570H633V1425H592z"/>
<path d="M58 195L160 110M58 240L205 110" stroke="#000" stroke-width="10" fill="none"/>
<path fill="#44b4ff" d="M157 649h254v92H157zM639 649h254v92H639zM962 649h254v92H962zM157 1379h254v60H157zM639 1379h254v60H639zM962 1379h254v60H962z"/>
<g fill="#4a4400"><ellipse cx="386" cy="695" rx="23" ry="21"/><ellipse cx="667" cy="695" rx="23" ry="21"/><ellipse cx="1191" cy="695" rx="23" ry="21"/><ellipse cx="386" cy="1425" rx="23" ry="21"/><ellipse cx="667" cy="1425" rx="23" ry="21"/><ellipse cx="1191" cy="1425" rx="23" ry="21"/></g>
<g fill="#ff20e8"><rect x="58" y="1062" width="20" height="22" rx="4"/><rect x="349" y="1154" width="24" height="22" rx="5"/><rect x="526" y="1173" width="24" height="22" rx="5"/><rect x="58" y="1232" width="22" height="22" rx="4"/><rect x="204" y="1232" width="24" height="22" rx="5"/><rect x="219" y="1338" width="24" height="22" rx="5"/><rect x="533" y="1319" width="23" height="22" rx="5"/></g>
<rect x="1355" y="1300" width="3" height="125" fill="#000"/>
</svg>
<!-- toolbar buttons -->
<g fill="none">
<g><rect x="1596" y="119" width="33" height="34" fill="#3f8a78"/><path d="M1596 153V119H1629" stroke="#d8f4f4" stroke-width="1.5"/><rect x="1599" y="122" width="27" height="28" fill="#9bdcdc"/><rect x="1602" y="125" width="21" height="22" stroke="#000" stroke-width="1.5"/><path d="M1607 130h9v12h-9zM1616 130V127h5v7h-5M1617 136h-7M1612 133l-2 3 2 3" stroke="#000" stroke-width="1.5"/></g>
<g><rect x="1596" y="154" width="33" height="34" fill="#3f8a78"/><path d="M1596 188V154H1629" stroke="#d8f4f4" stroke-width="1.5"/><rect x="1599" y="157" width="27" height="28" fill="#9bdcdc"/><rect x="1602" y="160" width="21" height="22" stroke="#000" stroke-width="1.5"/><path d="M1606 168v10h14v-10" stroke="#000" stroke-width="2"/><path d="M1613 162l6 6h-3v5h-6v-5h-3z" fill="#000"/></g>
<g><rect x="1596" y="189" width="33" height="34" fill="#3f8a78"/><path d="M1596 223V189H1629" stroke="#d8f4f4" stroke-width="1.5"/><rect x="1599" y="192" width="27" height="28" fill="#9bdcdc"/><rect x="1602" y="195" width="21" height="22" stroke="#000" stroke-width="1.5"/><path d="M1606 207v-10h14v10" stroke="#000" stroke-width="2"/><path d="M1613 215l6-6h-3v-5h-6v5h-3z" fill="#000"/></g>
<g><rect x="1596" y="224" width="33" height="35" fill="#3f8a78"/><path d="M1596 259V224H1629" stroke="#d8f4f4" stroke-width="1.5"/><rect x="1599" y="227" width="27" height="29" fill="#9bdcdc"/><rect x="1602" y="230" width="21" height="23" stroke="#000" stroke-width="1.5"/><path d="M1611 234h9v15h-9" stroke="#000" stroke-width="2"/><path d="M1604 241.5l6-6v3h5v6h-5v3z" fill="#000"/></g>
<g><rect x="1596" y="260" width="33" height="34" fill="#3f8a78"/><path d="M1596 294V260H1629" stroke="#d8f4f4" stroke-width="1.5"/><rect x="1599" y="263" width="27" height="28" fill="#9bdcdc"/><rect x="1602" y="266" width="21" height="22" stroke="#000" stroke-width="1.5"/><path d="M1614 270h-9v14h9" stroke="#000" stroke-width="2"/><path d="M1621 277l-6-6v3h-5v6h5v3z" fill="#000"/></g>
<g><rect x="1596" y="295" width="33" height="34" fill="#3f8a78"/><path d="M1596 329V295H1629" stroke="#d8f4f4" stroke-width="1.5"/><rect x="1599" y="298" width="27" height="28" fill="#9bdcdc"/><rect x="1602" y="301" width="21" height="22" stroke="#000" stroke-width="1.5"/><rect x="1610" y="309" width="5" height="6" stroke="#000"/><path d="M1606 302h13l-6.5 5zM1606 322h13l-6.5-5zM1603 306v10l5-5zM1622 306v10l-5-5z" fill="#000"/></g>
<g><rect x="1596" y="330" width="33" height="34" fill="#3f8a78"/><path d="M1596 364V330H1629" stroke="#d8f4f4" stroke-width="1.5"/><rect x="1599" y="333" width="27" height="28" fill="#9bdcdc"/><rect x="1602" y="336" width="21" height="22" stroke="#000" stroke-width="1.5"/><rect x="1610" y="344" width="5" height="6" stroke="#000"/><path d="M1612.5 336l4 5h-8zM1612.5 358l4-5h-8zM1603 347l5-4v8zM1622 347l-5-4v8z" fill="#000"/></g>
</g>
<!-- close button -->
<rect x="1147" y="611" width="483" height="28" fill="#2e6a5c"/>
<rect x="1149" y="613" width="479" height="24" fill="#9bdcdc"/>
<path d="M1150 636V614H1627" fill="none" stroke="#d8f4f4" stroke-width="1.5"/>
<path d="M1150 636H1627V614" fill="none" stroke="#4f8888" stroke-width="1.5"/>
<text x="1387" y="630" text-anchor="middle" style="font-size:14.6px;font-weight:normal">Close</text>
</svg>
</body></html>
